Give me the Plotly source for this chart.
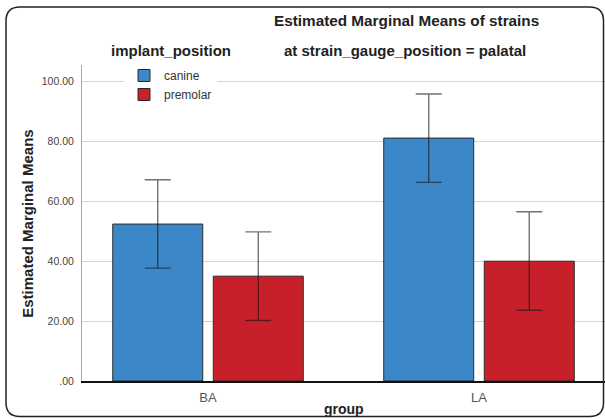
import plotly.graph_objects as go

groups = ["BA", "LA"]
series_names = ["canine", "premolar"]
canine_mean = [52.4, 81.1]
canine_lower = [37.7, 66.3]
canine_upper = [67.2, 95.8]
premolar_mean = [35.0, 40.0]
premolar_lower = [20.2, 23.6]
premolar_upper = [49.8, 56.5]
ytick_vals = [0, 20, 40, 60, 80, 100]
ytick_text = [".00", "20.00", "40.00", "60.00", "80.00", "100.00"]

colors = ["#3C87C8", "#C8202A"]
FONT = "Liberation Sans, Arial, sans-serif"

fig = go.Figure()
for name, mean, lo, hi, col in [
    (series_names[0], canine_mean, canine_lower, canine_upper, colors[0]),
    (series_names[1], premolar_mean, premolar_lower, premolar_upper, colors[1]),
]:
    fig.add_trace(go.Bar(
        x=groups, y=mean, name=name,
        marker=dict(color=col, line=dict(color="#2a2a2a", width=1)),
        error_y=dict(type="data", symmetric=False,
                     array=[h - m for h, m in zip(hi, mean)],
                     arrayminus=[m - l for m, l in zip(mean, lo)],
                     color="rgba(20,20,20,0.6)", thickness=1.4, width=13),
    ))

# plot-area pixel geometry (for frame shape / annotations in paper coords)
L, R, T, B = 82, 605, 65, 381.5
W, H = R - L, B - T
def px(x):
    return (x - L) / W
def py(y):
    return (B - y) / H

x0, x1, y0, y1, r = 6, 603.5, 7, 417, 14
path = (
    f"M {px(x0 + r)},{py(y0)} L {px(x1 - r)},{py(y0)} "
    f"Q {px(x1)},{py(y0)} {px(x1)},{py(y0 + r)} "
    f"L {px(x1)},{py(y1 - r)} Q {px(x1)},{py(y1)} {px(x1 - r)},{py(y1)} "
    f"L {px(x0 + r)},{py(y1)} Q {px(x0)},{py(y1)} {px(x0)},{py(y1 - r)} "
    f"L {px(x0)},{py(y0 + r)} Q {px(x0)},{py(y0)} {px(x0 + r)},{py(y0)} Z"
)

def label(text, x, y, size, angle=0):
    return dict(text=text, x=px(x), y=py(y), xref="paper", yref="paper",
                xanchor="center", yanchor="middle", textangle=angle,
                showarrow=False, font=dict(size=size, color="#222"))

fig.update_layout(
    width=605, height=419, autosize=False,
    margin=dict(l=L, r=605 - R, t=T, b=419 - B, pad=0, autoexpand=False),
    paper_bgcolor="white", plot_bgcolor="white",
    font=dict(family=FONT, color="#222"),
    barmode="group", bargap=0.258, bargroupgap=0.105,
    showlegend=True,
    legend=dict(x=px(124), y=py(61), xanchor="left", yanchor="top",
                bgcolor="white", borderwidth=0,
                font=dict(size=12, color="#333", family=FONT),
                itemwidth=30, tracegroupgap=0),
    xaxis=dict(range=[-0.465, 1.465], showline=True, linecolor="#111", linewidth=2,
               showgrid=False, ticks="", tickfont=dict(size=13, color="#555"),
               ticklabelstandoff=3, automargin=False),
    yaxis=dict(range=[0, 105.5], tickvals=ytick_vals, ticktext=ytick_text,
               showline=True, linecolor="#aaa", linewidth=1,
               showgrid=True, gridcolor="#d4d4d4", gridwidth=1, zeroline=False,
               ticks="", tickfont=dict(size=10.5, color="#444"), ticklabelstandoff=5,
               automargin=False),
    shapes=[dict(type="path", xref="paper", yref="paper", path=path,
                 line=dict(color="#222", width=1.5), fillcolor="rgba(0,0,0,0)", layer="above")],
    annotations=[
        label("<b>Estimated Marginal Means of strains</b>", 406, 20, 15.3),
        label("<b>at strain_gauge_position = palatal</b>", 405, 50, 15),
        label("<b>implant_position</b>", 171, 50, 15),
        label("<b>Estimated Marginal Means</b>", 28, 224, 15, -90),
        label("<b>group</b>", 344, 410, 14),
    ],
)

fig.write_html("out.html", config={"displayModeBar": False},
               post_script="document.body.style.margin='0';document.body.style.overflow='hidden';")
